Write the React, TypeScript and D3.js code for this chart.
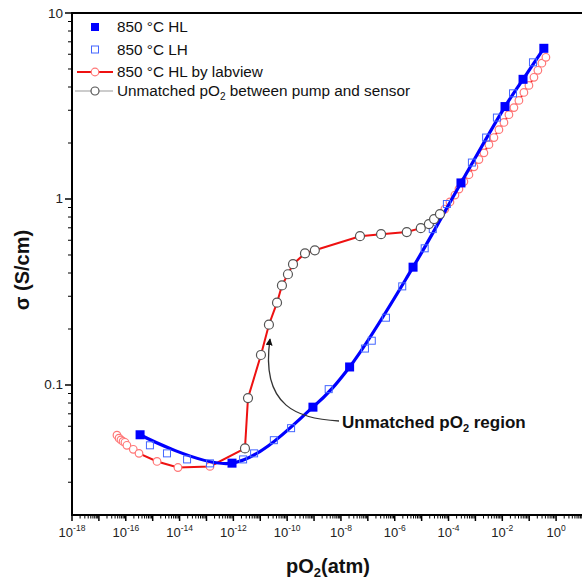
import React from 'react';
import * as d3 from 'd3';

// 850 °C HL (filled squares)
const hlPO2 = [3.4e-16, 8.9e-13, 9.1e-10, 2.1e-8, 4.8e-6, 2.9e-4, 1.26e-2, 5.9e-2, 0.35];
const hlSigma = [0.054, 0.038, 0.076, 0.125, 0.43, 1.22, 3.14, 4.4, 6.46];

// 850 °C LH (open squares)
const lhPO2 = [7.9e-16, 3.4e-15, 1.9e-14, 1.35e-13, 2.3e-12, 5.9e-12, 3.2e-11, 1.4e-10, 3.5e-9, 7.8e-8, 1.4e-7, 4.7e-7, 1.9e-6, 1.3e-5, 2.6e-5, 8.7e-5, 7.4e-4, 2.5e-3, 6.3e-3, 2.5e-2, 0.138];
const lhSigma = [0.0474, 0.0429, 0.0398, 0.0379, 0.0398, 0.0429, 0.0505, 0.0586, 0.095, 0.157, 0.173, 0.23, 0.339, 0.543, 0.689, 0.94, 1.57, 2.14, 2.74, 3.7, 5.43];

// 850 °C HL by labview (low pO2 part)
const labviewLowPO2 = [4.7e-17, 5.6e-17, 6.6e-17, 7.9e-17, 9.3e-17, 1.1e-16, 1.9e-16, 3.1e-16, 1.45e-15, 8.7e-15, 1.35e-13];
const labviewLowSigma = [0.0537, 0.0518, 0.0507, 0.0497, 0.0492, 0.0474, 0.0451, 0.0429, 0.0388, 0.036, 0.0365];

// Unmatched pO2 between pump and sensor
const unmatchedPO2 = [2.7e-12, 3.5e-12, 1.06e-11, 2.1e-11, 4.2e-11, 6.4e-11, 1.07e-10, 1.65e-10, 4.6e-10, 1.07e-9, 5.1e-8, 3.1e-7, 2.8e-6, 9.3e-6, 1.86e-5, 2.9e-5, 4.8e-5];
const unmatchedSigma = [0.0456, 0.0851, 0.145, 0.211, 0.277, 0.343, 0.394, 0.446, 0.51, 0.53, 0.631, 0.647, 0.664, 0.697, 0.733, 0.78, 0.83];

// 850 °C HL by labview (high pO2 part)
const labviewHighPO2 = [7.3e-5, 1.13e-4, 1.73e-4, 2.44e-4, 3.73e-4, 5.73e-4, 8.79e-4, 1.35e-3, 2.07e-3, 3.18e-3, 4.88e-3, 7.48e-3, 1.15e-2, 1.76e-2, 2.7e-2, 4.14e-2, 6.35e-2, 9.75e-2, 0.15, 0.21, 0.296, 0.418];
const labviewHighSigma = [0.883, 0.964, 1.05, 1.13, 1.24, 1.35, 1.49, 1.63, 1.77, 1.96, 2.14, 2.36, 2.58, 2.84, 3.1, 3.39, 3.74, 4.08, 4.51, 4.92, 5.37, 5.78];

const xTickExps = [-18, -17, -16, -15, -14, -13, -12, -11, -10, -9, -8, -7, -6, -5, -4, -3, -2, -1, 0];
const xLabelExps = [-18, -16, -14, -12, -10, -8, -6, -4, -2, 0];
const yTickValues = [0.1, 1, 10];
const yTickLabels = ['0.1', '1', '10'];

const legendLabels = ['850 \u00B0C HL', '850 \u00B0C LH', '850 \u00B0C HL by labview'];

const W = 582;
const H = 583;
const FONT = "Arial, 'Liberation Sans', Helvetica, sans-serif";

export default function App() {
  const left = 72, top = 13, bottom = 515, right = 583;
  const x = d3.scaleLog().domain([1e-18, 10]).range([left, right]);
  const y = d3.scaleLog().domain([0.02, 10]).range([bottom, top]);

  const zip = (a: number[], b: number[]) => a.map((v, i) => [v, b[i]] as [number, number]);
  const hl = zip(hlPO2, hlSigma);
  const lh = zip(lhPO2, lhSigma);
  const lvLow = zip(labviewLowPO2, labviewLowSigma);
  const um = zip(unmatchedPO2, unmatchedSigma);
  const lvHigh = zip(labviewHighPO2, labviewHighSigma);

  const lineStraight = d3.line<[number, number]>().x(d => x(d[0])).y(d => y(d[1]));
  const lineSmooth = d3.line<[number, number]>().x(d => x(d[0])).y(d => y(d[1])).curve(d3.curveCatmullRom.alpha(0.5));

  const redPath = lineStraight([...lvLow, ...um, ...lvHigh]) || '';
  const bluePath = lineSmooth(hl) || '';

  const xMinor: number[] = [];
  for (let e = -18; e <= 0; e++) for (let m = 2; m <= 9; m++) xMinor.push(m * Math.pow(10, e));
  const yMinor: number[] = [];
  for (let e = -2; e <= 0; e++) for (let m = 2; m <= 9; m++) {
    const v = m * Math.pow(10, e);
    if (v > 0.02 && v < 10) yMinor.push(v);
  }

  const red = '#ee1111';
  const redCircle = '#ff7777';
  const blue = '#0000ff';
  const blueOpen = '#4466ff';
  const gray = '#555555';

  return (
    <svg width={W} height={H} style={{ position: 'absolute', left: 0, top: 0, background: '#fff' }} fontFamily={FONT}>
      <defs>
        <marker id="ah" viewBox="0 0 10 10" refX="9" refY="5" markerWidth="7" markerHeight="7" orient="auto" markerUnits="userSpaceOnUse">
          <path d="M0,0 L10,5 L0,10 z" fill="#111" />
        </marker>
      </defs>
      <rect x={0} y={0} width={W} height={H} fill="#fff" />

      {/* red labview line */}
      <path d={redPath} fill="none" stroke={red} strokeWidth={2} />
      {[...lvLow, ...lvHigh].map((d, i) => (
        <circle key={'r' + i} cx={x(d[0])} cy={y(d[1])} r={3.8} fill="#fff" stroke={redCircle} strokeWidth={1.2} />
      ))}

      {/* blue line */}
      <path d={bluePath} fill="none" stroke={blue} strokeWidth={3.2} />
      {lh.map((d, i) => (
        <rect key={'lh' + i} x={x(d[0]) - 3.5} y={y(d[1]) - 3.5} width={7} height={7} fill="none" stroke={blueOpen} strokeWidth={1} />
      ))}
      {hl.map((d, i) => (
        <rect key={'hl' + i} x={x(d[0]) - 4.5} y={y(d[1]) - 4.5} width={9} height={9} fill={blue} />
      ))}

      {/* unmatched gray circles */}
      {um.map((d, i) => (
        <circle key={'u' + i} cx={x(d[0])} cy={y(d[1])} r={4.5} fill="#fff" stroke={gray} strokeWidth={1.2} />
      ))}

      {/* annotation */}
      <path d="M339,421 C300,419 260,408 270,339" fill="none" stroke="#333" strokeWidth={1.3} markerEnd="url(#ah)" />
      <text x={342} y={428} fontSize={17} fontWeight="bold" fill="#111">
        Unmatched pO<tspan fontSize={11} dy={4}>2</tspan><tspan dy={-4}> region</tspan>
      </text>

      {/* frame */}
      <line x1={left} x2={right} y1={top} y2={top} stroke="#000" strokeWidth={2} />
      <line x1={left} x2={left} y1={top - 1} y2={bottom + 1} stroke="#000" strokeWidth={2} />
      <line x1={left - 1} x2={right} y1={bottom} y2={bottom} stroke="#000" strokeWidth={2} />

      {/* x ticks */}
      {xTickExps.map(e => (
        <line key={'xt' + e} x1={x(Math.pow(10, e))} x2={x(Math.pow(10, e))} y1={bottom} y2={bottom + 6} stroke="#000" strokeWidth={1.5} />
      ))}
      {xMinor.map((v, i) => (
        <line key={'xm' + i} x1={x(v)} x2={x(v)} y1={bottom} y2={bottom + 3.5} stroke="#000" strokeWidth={1} />
      ))}
      {xLabelExps.map(e => (
        <text key={'xl' + e} x={x(Math.pow(10, e))} y={537} textAnchor="middle" fontSize={13} fill="#222">
          10<tspan fontSize={8.5} dy={-6}>{String(e)}</tspan>
        </text>
      ))}

      {/* y ticks */}
      {yTickValues.map(v => (
        <line key={'yt' + v} x1={left - 7} x2={left} y1={y(v)} y2={y(v)} stroke="#000" strokeWidth={1.5} />
      ))}
      {yMinor.map((v, i) => (
        <line key={'ym' + i} x1={left - 4} x2={left} y1={y(v)} y2={y(v)} stroke="#000" strokeWidth={1} />
      ))}
      {yTickValues.map((v, i) => (
        <text key={'yl' + v} x={63} y={y(v) + 4.5} textAnchor="end" fontSize={13.5} fill="#222">{yTickLabels[i]}</text>
      ))}

      {/* axis titles */}
      <text x={328} y={573} textAnchor="middle" fontSize={20} fontWeight="bold" fill="#111">
        pO<tspan fontSize={13} dy={4}>2</tspan><tspan dy={-4}>(atm)</tspan>
      </text>
      <text transform="translate(29,270) rotate(-90)" textAnchor="middle" fontSize={20} fontWeight="bold" fill="#111">
        {'\u03C3 (S/cm)'}
      </text>

      {/* legend */}
      <rect x={91} y={23} width={8} height={8} fill={blue} />
      <text x={117} y={32} fontSize={15.3} fill="#111">{legendLabels[0]}</text>
      <rect x={91.5} y={46} width={7} height={7} fill="none" stroke={blueOpen} strokeWidth={1} />
      <text x={117} y={55} fontSize={15.3} fill="#111">{legendLabels[1]}</text>
      <line x1={77} x2={113} y1={72} y2={72} stroke={red} strokeWidth={2} />
      <circle cx={95} cy={72} r={3.8} fill="#fff" stroke={redCircle} strokeWidth={1.2} />
      <text x={117} y={77} fontSize={15.3} fill="#111">{legendLabels[2]}</text>
      <line x1={75} x2={113} y1={91} y2={91} stroke="#999" strokeWidth={1} />
      <circle cx={95} cy={91} r={4} fill="#fff" stroke={gray} strokeWidth={1.2} />
      <text x={117} y={96} fontSize={15.3} fill="#111">
        Unmatched pO<tspan fontSize={10} dy={4}>2</tspan><tspan dy={-4}> between pump and sensor</tspan>
      </text>
    </svg>
  );
}
